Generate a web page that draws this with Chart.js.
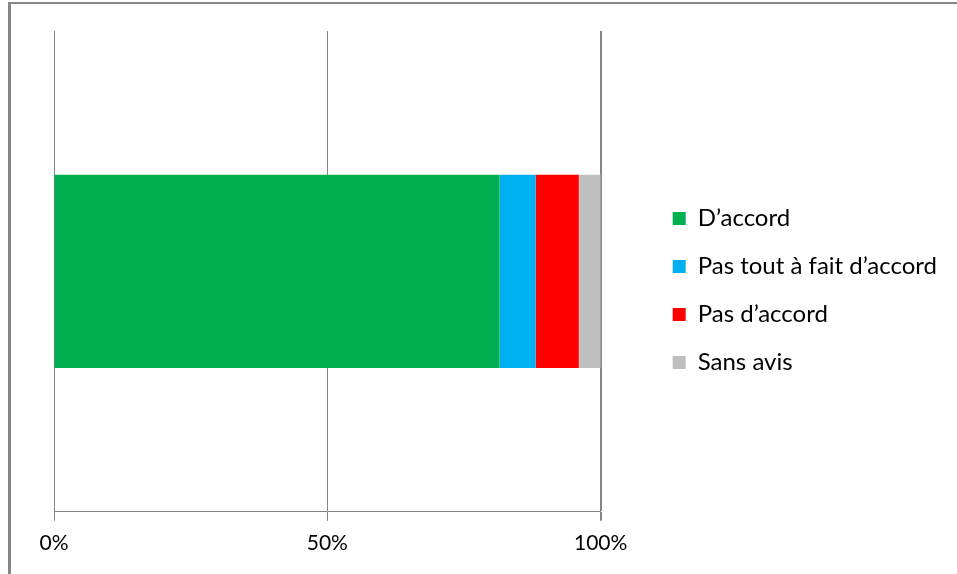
<!DOCTYPE html>
<html>
<head>
<meta charset="utf-8">
<script src="https://cdn.jsdelivr.net/npm/chart.js@4.4.1/dist/chart.umd.min.js"></script>
<style>
  body { margin: 0; background: #fff; }
  #wrap { position: relative; width: 957px; height: 574px; }
  #frame {
    position: absolute; left: 8px; top: 2px; right: 0; bottom: 0;
    border-left: 3px solid #868686; border-top: 2px solid #868686;
    pointer-events: none;
  }
</style>
</head>
<body>
<div id="wrap">
  <canvas id="chart" width="957" height="574"></canvas>
  <div id="frame"></div>
</div>
<script>
const categories = [''];
const seriesNames = ['D\u2019accord', 'Pas tout à fait d\u2019accord', 'Pas d\u2019accord', 'Sans avis'];
const seriesValues = [[81.5], [6.6], [7.9], [4.0]];
const seriesColors = ['#00b050', '#00b0f0', '#ff0000', '#bfbfbf'];
const tickValues = [0, 50, 100];

const font = "Lato, 'Open Sans', sans-serif";

const datasets = seriesNames.map((name, i) => ({
  label: name,
  data: seriesValues[i],
  backgroundColor: seriesColors[i],
  borderWidth: 0,
  barPercentage: 1,
  categoryPercentage: 0.402
}));

// push the legend a bit away from the plot area
const legendGap = {
  id: 'legendGap',
  afterLayout(chart) {
    chart.legend.left += 48;
    chart.legend.right += 48;
  }
};

new Chart(document.getElementById('chart'), {
  type: 'bar',
  data: { labels: categories, datasets: datasets },
  plugins: [legendGap],
  options: {
    indexAxis: 'y',
    responsive: false,
    animation: false,
    layout: { padding: { left: 54, top: 15, right: 58, bottom: 8 } },
    plugins: {
      tooltip: { enabled: false },
      // empty spacer over the plot only, so the legend stays centred on the full height
      title: {
        display: true,
        text: '',
        fullSize: false,
        padding: 3,
        font: { size: 10, lineHeight: 1 }
      },
      legend: {
        position: 'right',
        align: 'center',
        labels: {
          boxWidth: 13,
          boxHeight: 13,
          padding: 24,
          color: '#000',
          font: { family: font, size: 24 }
        }
      }
    },
    scales: {
      x: {
        stacked: true,
        min: 0,
        max: 100,
        afterBuildTicks: (axis) => { axis.ticks = tickValues.map(v => ({ value: v })); },
        ticks: {
          color: '#000',
          padding: 10,
          font: { family: font, size: 21 },
          callback: (v) => v + '%'
        },
        grid: {
          color: '#868686',
          lineWidth: (ctx) => (ctx.tick && ctx.tick.value === 100 ? 2 : 1),
          tickLength: 9
        },
        border: { display: true, color: '#868686', width: 1 }
      },
      y: {
        stacked: true,
        display: false
      }
    }
  }
});
</script>
</body>
</html>
